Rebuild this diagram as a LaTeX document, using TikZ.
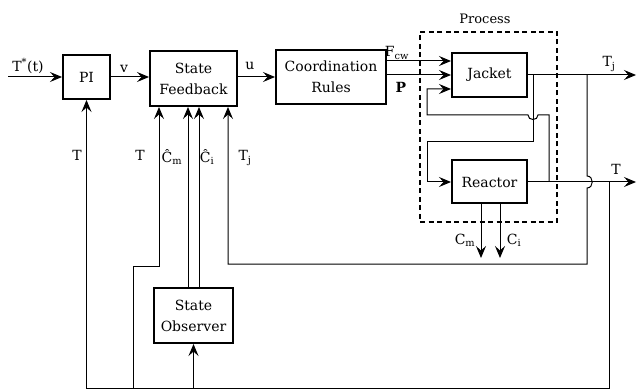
\documentclass[tikz,border=0pt]{standalone}
\usepackage{fontspec}
\setmainfont{DejaVu Serif}
\usetikzlibrary{arrows.meta}
\begin{document}
\begin{tikzpicture}[x=1pt,y=-1pt,
  blk/.style={draw,line width=2pt,align=center,inner sep=0pt,font=\fontsize{14}{21}\selectfont},
  wire/.style={line width=1pt},
  arr/.style={wire,-{Stealth[length=12pt,width=10pt,inset=4.5pt]}},
  lbl/.style={font=\fontsize{14}{16}\selectfont,inner sep=0pt}]
\useasboundingbox (0,0) rectangle (637,390);

% blocks
\node[blk,minimum width=47pt,minimum height=44pt] (pi) at (86.5,77) {PI};
\node[blk,minimum width=87pt,minimum height=55pt] (sf) at (193.5,78.5) {State\\Feedback};
\node[blk,minimum width=110pt,minimum height=54pt] (cr) at (331,77) {Coordination\\Rules};
\node[blk,minimum width=75pt,minimum height=44pt] (jk) at (489.5,75) {Jacket};
\node[blk,minimum width=75pt,minimum height=43pt] (rc) at (489.5,182) {Reactor};
\node[blk,minimum width=79pt,minimum height=55pt] (ob) at (193.5,315.5) {State\\Observer};
\node[draw,line width=1.2pt,dash pattern=on 5pt off 3.5pt,minimum width=137pt,minimum height=190pt,inner sep=0pt] (proc) at (488.5,127) {};
\node[lbl,font=\fontsize{13}{15}\selectfont] (proclbl) at (485,19) {Process};

% named points
\coordinate (in) at (8,77);
\coordinate (fcw) at ([yshift=14pt]jk.west);
\coordinate (pin) at (jk.west);
\coordinate (tin) at ([yshift=-14pt]jk.west);
\coordinate (tjout) at (636,75);
\coordinate (tout) at (636,182);
\coordinate (jo) at (533,75);
\coordinate (rb) at (549,182);
\coordinate (tjb) at (587,75);
\coordinate (tb) at (609,182);
\coordinate (bot) at (609,388);
\coordinate (b1) at (133,388);
\coordinate (sfT) at ([xshift=-34.5pt]sf.south);
\coordinate (sfCm) at ([xshift=-5.5pt]sf.south);
\coordinate (sfCi) at ([xshift=5.5pt]sf.south);
\coordinate (sfTj) at ([xshift=34.5pt]sf.south);
\coordinate (cm) at (481,258);
\coordinate (ci) at (500,258);

% forward path
\draw[arr] (in) -- (pi.west);
\draw[arr] (pi.east) -- (pi.east -| sf.west);
\draw[arr] (sf.east |- cr.west) -- (cr.west);
\draw[arr] (cr.east |- fcw) -- (fcw);
\draw[arr] (cr.east |- pin) -- (pin);

% process internals
\draw[arr] (rb) -- (549,115) -- (538,115) .. controls (538,121) and (528,121) .. (528,115) -- (427,115) -- (427,89) -- (tin);
\draw[arr] (jo) -- (533,142) -- (427,142) -- (427,182) -- (rc.west);
\draw[arr] (jk.east) -- (tjout);
\draw[arr] (rc.east) -- (tout);
\draw[arr] (rc.south -| cm) -- (cm);
\draw[arr] (rc.south -| ci) -- (ci);

% feedback
\draw[arr] (tjb) -- (587,176) .. controls (594,176) and (594,188) .. (587,188) -- (587,264) -- (228,264) -- (sfTj);
\draw[arr] (tb) -- (bot) -- (bot -| pi.south) -- (pi.south);
\draw[arr] (b1) -- (133,266) -- (159,266) -- (sfT);
\draw[arr] (bot -| ob.south) -- (ob.south);
\draw[arr] (ob.north -| sfCm) -- (sfCm);
\draw[arr] (ob.north -| sfCi) -- (sfCi);

% labels
\node[lbl] (l1) at (28,66) {T\textsuperscript{*}(t)};
\node[lbl] (l2) at (124,69) {v};
\node[lbl] (l3) at (250,66) {u};
\node[lbl] (l4) at (397,53) {F\textsubscript{cw}};
\node[lbl] (l5) at (401,87) {\textbf{P}};
\node[lbl] (l6) at (609,64) {T\textsubscript{j}};
\node[lbl] (l7) at (616,169) {T};
\node[lbl] (l8) at (77,155) {T};
\node[lbl] (l9) at (140,155) {T};
\node[lbl] (l10) at (172,157) {Ĉ\textsubscript{m}};
\node[lbl] (l11) at (207,157) {Ĉ\textsubscript{i}};
\node[lbl] (l12) at (245,158) {T\textsubscript{j}};
\node[lbl] (l13) at (465,240) {C\textsubscript{m}};
\node[lbl] (l14) at (514,240) {C\textsubscript{i}};
\end{tikzpicture}
\end{document}
